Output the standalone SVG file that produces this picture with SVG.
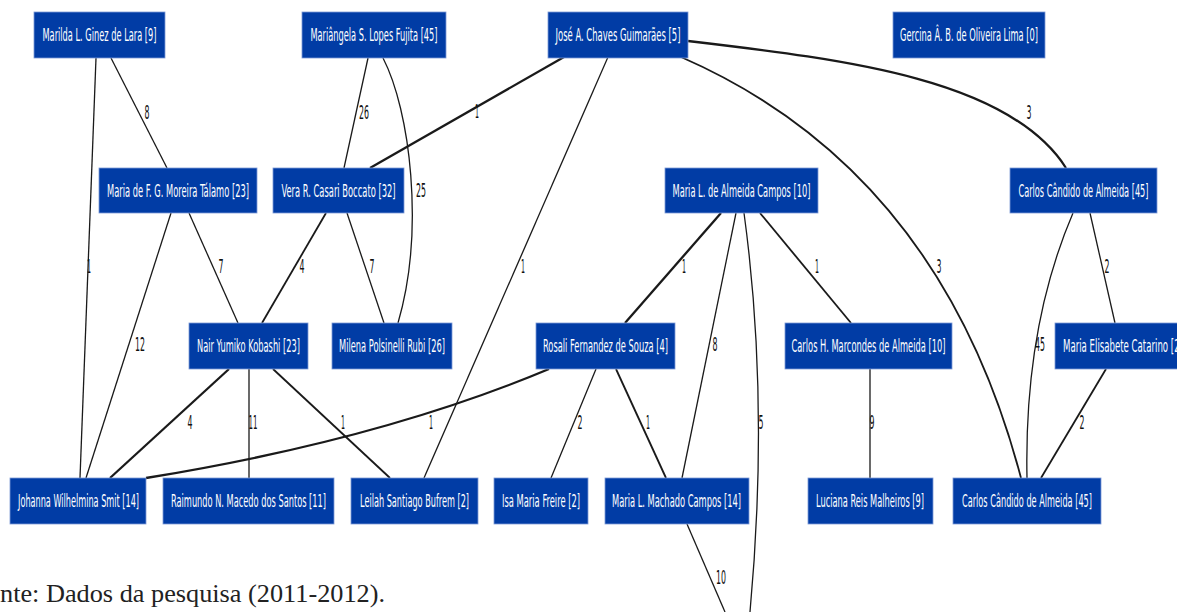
<svg xmlns="http://www.w3.org/2000/svg" width="1177" height="612" viewBox="0 0 1177 612">
<style>
.box{fill:#013ca5;stroke:#7d9ad6;stroke-width:0.8}
.nt{fill:#ffffff;font-family:"DejaVu Sans Condensed","DejaVu Sans",sans-serif;font-size:18px;text-anchor:middle}
.e{fill:none;stroke:#1a1a1a;stroke-width:1.3}
.t{stroke-width:2.3}
.m{stroke-width:1.8}
.lb{fill:#111;font-family:"DejaVu Sans Condensed","DejaVu Sans",sans-serif;font-size:19px;text-anchor:middle}
.cap{fill:#222;font-family:"Liberation Serif",serif;font-size:24.5px}
</style>
<rect width="1177" height="612" fill="#ffffff"/>
<g id="connectors">
<path class="e" d="M96,58 L80,478"/>
<path class="e" d="M111,58 L167,168"/>
<path class="e" d="M368,58 L344,168"/>
<path class="e" d="M383,58 C410,110 425,230 398,323"/>
<path class="e t" d="M564,57 L370,168"/>
<path class="e" d="M608,57 L424,478"/>
<path class="e m" d="M681,57 Q940,170 1021,478"/>
<path class="e t" d="M688,41 C850,60 1010,80 1066,168"/>
<path class="e" d="M189,213 L238,323"/>
<path class="e" d="M171,213 L86,478"/>
<path class="e m" d="M326,213 L262,323"/>
<path class="e" d="M347,213 L384,323"/>
<path class="e t" d="M229,369 L110,478"/>
<path class="e" d="M249,369 L249,478"/>
<path class="e m" d="M273,369 L390,478"/>
<path class="e t" d="M549,369 Q380,440 146,478"/>
<path class="e t" d="M721,213 L625,323"/>
<path class="e" d="M736,213 L682,478"/>
<path class="e" d="M744,213 C760,330 764,460 750,612"/>
<path class="e m" d="M760,213 L851,323"/>
<path class="e" d="M596,369 L551,478"/>
<path class="e m" d="M616,369 L666,478"/>
<path class="e" d="M870,369 L870,478"/>
<path class="e" d="M1090,213 L1115,323"/>
<path class="e" d="M1073,213 C1040,290 1025,380 1027,478"/>
<path class="e m" d="M1106,369 L1041,478"/>
<path class="e" d="M687,524 L725,612"/>
</g>
<g id="edge-labels">
<text class="lb" x="147" y="119" textLength="5" lengthAdjust="spacingAndGlyphs">8</text>
<text class="lb" x="364" y="119" textLength="10" lengthAdjust="spacingAndGlyphs">26</text>
<text class="lb" x="421" y="197" textLength="10" lengthAdjust="spacingAndGlyphs">25</text>
<text class="lb" x="477" y="118" textLength="4" lengthAdjust="spacingAndGlyphs">1</text>
<text class="lb" x="1029" y="119" textLength="5" lengthAdjust="spacingAndGlyphs">3</text>
<text class="lb" x="89" y="273" textLength="4" lengthAdjust="spacingAndGlyphs">1</text>
<text class="lb" x="221" y="273" textLength="5" lengthAdjust="spacingAndGlyphs">7</text>
<text class="lb" x="302" y="273" textLength="5" lengthAdjust="spacingAndGlyphs">4</text>
<text class="lb" x="372" y="273" textLength="5" lengthAdjust="spacingAndGlyphs">7</text>
<text class="lb" x="523" y="273" textLength="4" lengthAdjust="spacingAndGlyphs">1</text>
<text class="lb" x="684" y="273" textLength="4" lengthAdjust="spacingAndGlyphs">1</text>
<text class="lb" x="817" y="273" textLength="4" lengthAdjust="spacingAndGlyphs">1</text>
<text class="lb" x="939" y="273" textLength="5" lengthAdjust="spacingAndGlyphs">3</text>
<text class="lb" x="1107" y="273" textLength="5" lengthAdjust="spacingAndGlyphs">2</text>
<text class="lb" x="140" y="351" textLength="10" lengthAdjust="spacingAndGlyphs">12</text>
<text class="lb" x="715" y="351" textLength="5" lengthAdjust="spacingAndGlyphs">8</text>
<text class="lb" x="1040" y="351" textLength="10" lengthAdjust="spacingAndGlyphs">45</text>
<text class="lb" x="190" y="429" textLength="5" lengthAdjust="spacingAndGlyphs">4</text>
<text class="lb" x="253" y="429" textLength="9" lengthAdjust="spacingAndGlyphs">11</text>
<text class="lb" x="343" y="429" textLength="4" lengthAdjust="spacingAndGlyphs">1</text>
<text class="lb" x="431" y="429" textLength="4" lengthAdjust="spacingAndGlyphs">1</text>
<text class="lb" x="580" y="429" textLength="5" lengthAdjust="spacingAndGlyphs">2</text>
<text class="lb" x="648" y="429" textLength="4" lengthAdjust="spacingAndGlyphs">1</text>
<text class="lb" x="761" y="429" textLength="5" lengthAdjust="spacingAndGlyphs">5</text>
<text class="lb" x="872" y="429" textLength="5" lengthAdjust="spacingAndGlyphs">9</text>
<text class="lb" x="1082" y="429" textLength="5" lengthAdjust="spacingAndGlyphs">2</text>
<text class="lb" x="721" y="584" textLength="10" lengthAdjust="spacingAndGlyphs">10</text>
</g>
<g id="n-marilda"><rect class="box" x="34" y="12" width="131" height="46"/><text class="nt" x="99.5" y="41" textLength="114" lengthAdjust="spacingAndGlyphs">Marilda L. Ginez de Lara [9]</text></g>
<g id="n-mariangela"><rect class="box" x="302" y="12" width="144" height="46"/><text class="nt" x="374" y="41" textLength="127" lengthAdjust="spacingAndGlyphs">Mariângela S. Lopes Fujita [45]</text></g>
<g id="n-jose"><rect class="box" x="548" y="12" width="140" height="46"/><text class="nt" x="618" y="41" textLength="125" lengthAdjust="spacingAndGlyphs">José A. Chaves Guimarães [5]</text></g>
<g id="n-gercina"><rect class="box" x="893" y="12" width="152" height="46"/><text class="nt" x="969" y="41" textLength="138" lengthAdjust="spacingAndGlyphs">Gercina Â. B. de Oliveira Lima [0]</text></g>
<g id="n-talamo"><rect class="box" x="99" y="168" width="158" height="45"/><text class="nt" x="178" y="197" textLength="142" lengthAdjust="spacingAndGlyphs">Maria de F. G. Moreira Tálamo [23]</text></g>
<g id="n-vera"><rect class="box" x="273" y="168" width="131" height="45"/><text class="nt" x="338.5" y="197" textLength="114" lengthAdjust="spacingAndGlyphs">Vera R. Casari Boccato [32]</text></g>
<g id="n-mlac"><rect class="box" x="665" y="168" width="153" height="45"/><text class="nt" x="741.5" y="197" textLength="138" lengthAdjust="spacingAndGlyphs">Maria L. de Almeida Campos [10]</text></g>
<g id="n-cca1"><rect class="box" x="1010" y="168" width="147" height="45"/><text class="nt" x="1083.5" y="197" textLength="130" lengthAdjust="spacingAndGlyphs">Carlos Cândido de Almeida [45]</text></g>
<g id="n-nair"><rect class="box" x="189" y="323" width="119" height="46"/><text class="nt" x="248.5" y="352" textLength="103" lengthAdjust="spacingAndGlyphs">Nair Yumiko Kobashi [23]</text></g>
<g id="n-milena"><rect class="box" x="332" y="323" width="120" height="46"/><text class="nt" x="392" y="352" textLength="106" lengthAdjust="spacingAndGlyphs">Milena Polsinelli Rubi [26]</text></g>
<g id="n-rosali"><rect class="box" x="536" y="323" width="139" height="46"/><text class="nt" x="605.5" y="352" textLength="125" lengthAdjust="spacingAndGlyphs">Rosali Fernandez de Souza [4]</text></g>
<g id="n-marcondes"><rect class="box" x="785" y="323" width="167" height="46"/><text class="nt" x="868.5" y="352" textLength="154" lengthAdjust="spacingAndGlyphs">Carlos H. Marcondes de Almeida [10]</text></g>
<g id="n-catarino"><rect class="box" x="1055" y="323" width="137" height="46"/><text class="nt" x="1123" y="352" textLength="120" lengthAdjust="spacingAndGlyphs">Maria Elisabete Catarino [2]</text></g>
<g id="n-johanna"><rect class="box" x="10" y="478" width="136" height="46"/><text class="nt" x="78.5" y="507" textLength="121" lengthAdjust="spacingAndGlyphs">Johanna Wilhelmina Smit [14]</text></g>
<g id="n-raimundo"><rect class="box" x="163" y="478" width="171" height="46"/><text class="nt" x="248.5" y="507" textLength="155" lengthAdjust="spacingAndGlyphs">Raimundo N. Macedo dos Santos [11]</text></g>
<g id="n-leilah"><rect class="box" x="351" y="478" width="127" height="46"/><text class="nt" x="414.5" y="507" textLength="109" lengthAdjust="spacingAndGlyphs">Leilah Santiago Bufrem [2]</text></g>
<g id="n-isa"><rect class="box" x="494" y="478" width="94" height="46"/><text class="nt" x="541" y="507" textLength="78" lengthAdjust="spacingAndGlyphs">Isa Maria Freire [2]</text></g>
<g id="n-machado"><rect class="box" x="605" y="478" width="144" height="46"/><text class="nt" x="676.5" y="507" textLength="129" lengthAdjust="spacingAndGlyphs">Maria L. Machado Campos [14]</text></g>
<g id="n-luciana"><rect class="box" x="808" y="478" width="125" height="46"/><text class="nt" x="870" y="507" textLength="108" lengthAdjust="spacingAndGlyphs">Luciana Reis Malheiros [9]</text></g>
<g id="n-cca2"><rect class="box" x="953" y="478" width="148" height="46"/><text class="nt" x="1027" y="507" textLength="130" lengthAdjust="spacingAndGlyphs">Carlos Cândido de Almeida [45]</text></g>
<text class="cap" x="0" y="602" textLength="385" lengthAdjust="spacingAndGlyphs">nte: Dados da pesquisa (2011-2012).</text>
</svg>
